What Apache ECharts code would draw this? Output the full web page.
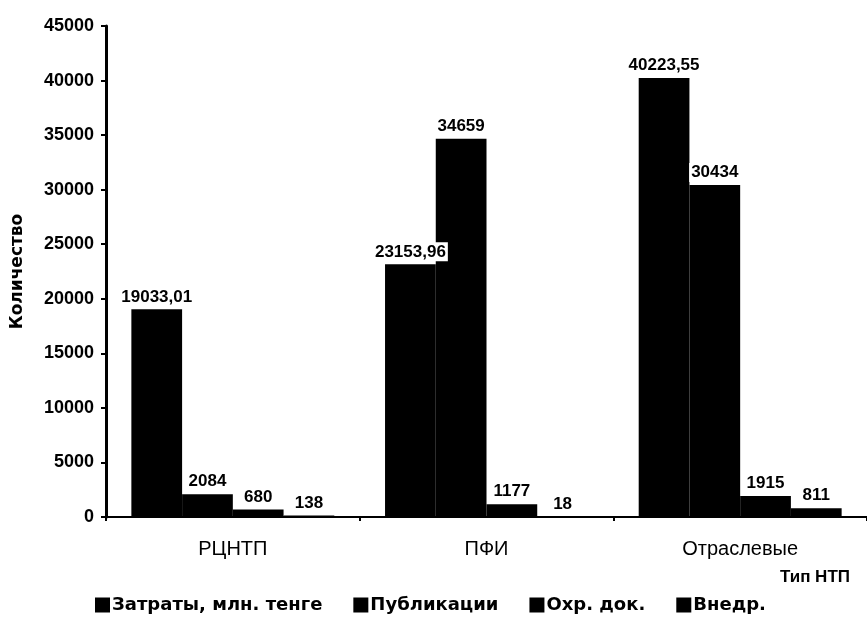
<!DOCTYPE html>
<html><head><meta charset="utf-8">
<script src="https://cdn.jsdelivr.net/npm/echarts@6/dist/echarts.min.js"></script>
<style>html,body{margin:0;padding:0;background:#fff}#c{width:867px;height:621px}</style>
</head><body><div id="c"></div>
<script>
const categories = ['РЦНТП', 'ПФИ', 'Отраслевые'];
const seriesNames = ['Затраты, млн. тенге', 'Публикации', 'Охр. док.', 'Внедр.'];
const costs = [19033.01, 23153.96, 40223.55];
const publications = [2084, 34659, 30434];
const protectionDocs = [680, 1177, 1915];
const implementations = [138, 18, 811];
const valueLabels = [
  ['19033,01', '23153,96', '40223,55'],
  ['2084', '34659', '30434'],
  ['680', '1177', '1915'],
  ['138', '18', '811']
];
const allData = [costs, publications, protectionDocs, implementations];
const wide = 'DejaVu Sans, sans-serif';
const arial = 'Liberation Sans, Arial, sans-serif';
const chart = echarts.init(document.getElementById('c'));
chart.setOption({
  animation: false,
  backgroundColor: '#fff',
  grid: { left: 106, top: 26, right: -6, bottom: 104, containLabel: false },
  legend: {
    bottom: 2, left: 90, itemWidth: 15, itemHeight: 15, itemGap: 31,
    icon: 'rect',
    textStyle: { fontFamily: wide, fontSize: 18, fontWeight: 'bold', color: '#000', padding: [0, 0, 0, -3] },
    data: seriesNames
  },
  xAxis: {
    type: 'category', data: categories,
    name: 'Тип НТП', nameLocation: 'end', nameGap: 0,
    nameTextStyle: { fontFamily: arial, fontSize: 17, fontWeight: 'bold', color: '#000', align: 'right', verticalAlign: 'top', padding: [52, 17, 0, 0] },
    axisLine: { lineStyle: { color: '#000', width: 2 } },
    axisTick: { show: true, length: 4, lineStyle: { color: '#000', width: 2 } },
    axisLabel: { fontFamily: arial, fontSize: 20, color: '#000', margin: 22 }
  },
  yAxis: {
    type: 'value', min: 0, max: 45000, interval: 5000,
    name: 'Количество', nameLocation: 'middle', nameGap: 80, nameRotate: 90,
    nameTextStyle: { fontFamily: wide, fontSize: 17, fontWeight: 'bold', color: '#000' },
    axisLine: { show: true, lineStyle: { color: '#000', width: 3 } },
    axisTick: { show: true, length: 5, lineStyle: { color: '#000', width: 2 } },
    axisLabel: { fontFamily: arial, fontSize: 18, fontWeight: 'bold', color: '#000', margin: 12, formatter: v => String(v) },
    splitLine: { show: false }
  },
  series: seriesNames.map((n, i) => ({
    name: n, type: 'bar',
    data: allData[i],
    barGap: '0%', barCategoryGap: '20%',
    itemStyle: { color: '#000' },
    label: {
      show: true, position: 'top', distance: 3,
      fontFamily: arial, fontSize: 17, fontWeight: 'bold', color: '#000',
      backgroundColor: '#fff', padding: [1, 2, 1, 2],
      formatter: p => valueLabels[i][p.dataIndex]
    }
  }))
});
</script></body></html>
